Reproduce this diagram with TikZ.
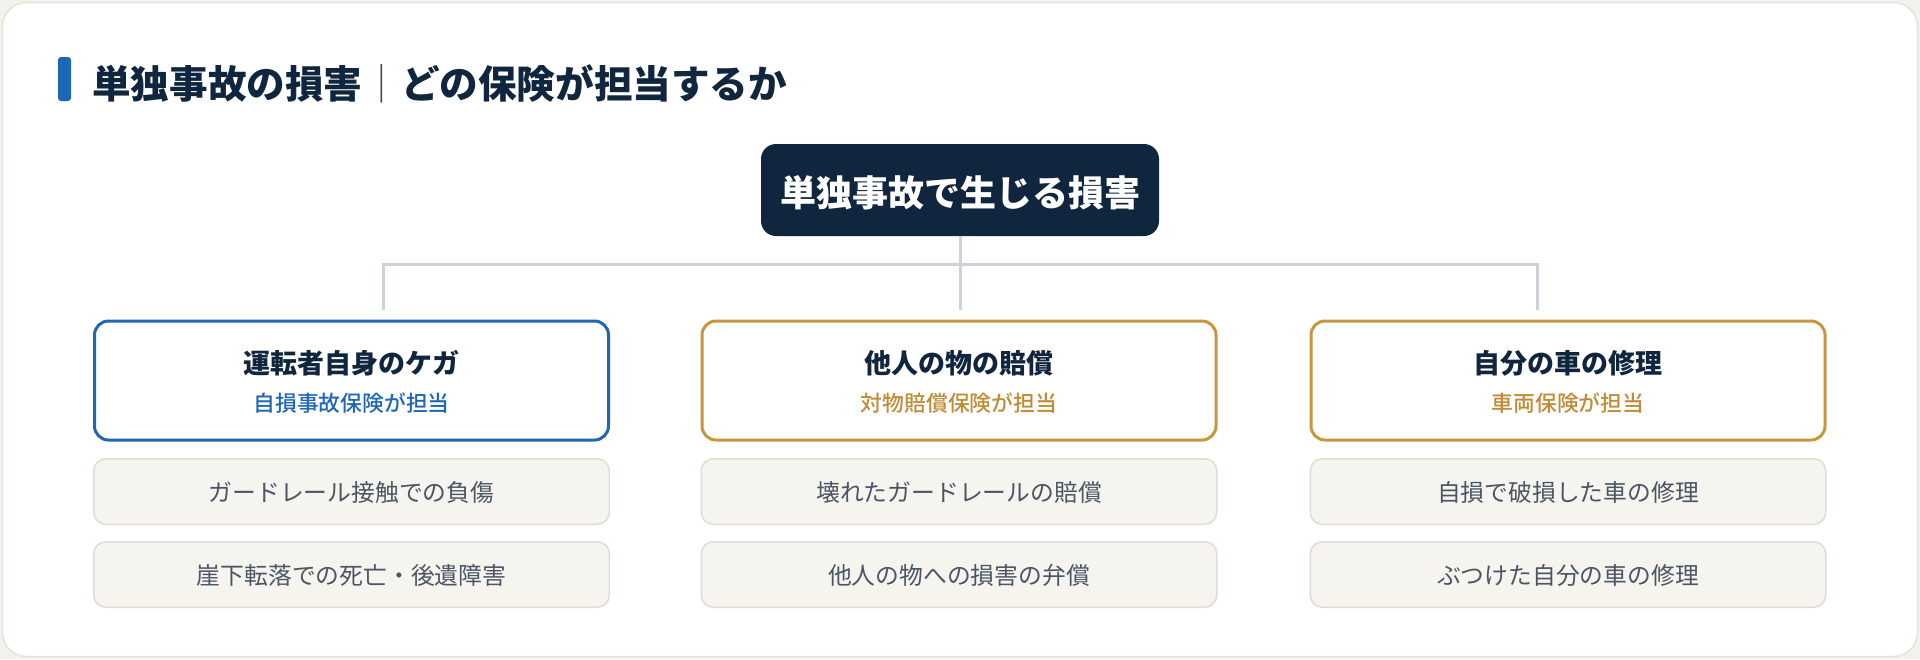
\documentclass[tikz,border=0pt]{standalone}
\usepackage{fontspec}
\setmainfont{Noto Sans CJK JP}
\newfontfamily\medfont{Noto Sans CJK JP Medium}
\definecolor{navy}{HTML}{10263F}
\definecolor{accblue}{HTML}{1E66B6}
\definecolor{gold}{HTML}{C8963E}
\definecolor{goldtxt}{HTML}{C08B35}
\definecolor{itemfill}{HTML}{F5F4EF}
\definecolor{itemline}{HTML}{E0DCD1}
\definecolor{itemtxt}{HTML}{4B5563}
\definecolor{conn}{HTML}{CDD2DA}
\definecolor{cardline}{HTML}{E5E2D9}
\definecolor{outbg}{HTML}{F3F1EC}
\definecolor{sepc}{HTML}{3A4A5E}
\tikzset{
  headbox/.style={draw=#1, line width=3pt, fill=white, rounded corners=14pt,
    minimum width=514pt, minimum height=119pt, inner sep=0pt},
  itembox/.style={draw=itemline, line width=1.5pt, fill=itemfill, rounded corners=12pt,
    minimum width=515.5pt, minimum height=65.5pt, inner sep=0pt},
  htitle/.style={anchor=base, text=navy, font=\fontsize{27}{32}\selectfont\bfseries, inner sep=0pt},
  hsub/.style={anchor=base, text=#1, font=\fontsize{21.8}{26}\selectfont\medfont, inner sep=0pt},
  itemtext/.style={anchor=base, text=itemtxt, font=\fontsize{23.8}{28}\selectfont, inner sep=0pt},
  connline/.style={draw=conn, line width=3pt}
}
\begin{document}
\begin{tikzpicture}[x=1pt,y=-1pt]
\useasboundingbox (0,0) rectangle (1920,659);
\fill[outbg] (0,0) rectangle (1920,659);
\draw[cardline, line width=1.5pt, fill=white, rounded corners=24pt] (2.5,2.5) rectangle (1917.5,656.5);
% title
\fill[accblue, rounded corners=3pt] (58,57) rectangle (71,101);
\node[anchor=base west, inner sep=0pt, text=navy, font=\fontsize{38.6}{46}\selectfont] (title) at (92,98)
  {{\bfseries 単独事故の損害}{\color{sepc}｜}{\bfseries どの保険が担当するか}};
% root
\node[fill=navy, rounded corners=15pt, minimum width=398pt, minimum height=92pt, inner sep=0pt] (root) at (960,190) {};
\node[anchor=base, text=white, font=\fontsize{36}{42}\selectfont\bfseries, inner sep=0pt] (roottxt) at (960,206) {単独事故で生じる損害};
% connectors
\coordinate (jl) at (383,264);
\coordinate (jr) at (1537,264);
\coordinate (el) at (383,310);
\coordinate (er) at (1537,310);
\coordinate (ec) at (960,310);
\draw[connline] (root.south) -- (ec);
\draw[connline] (el) -- (jl) -- (jr) -- (er);
% columns
\node[headbox=accblue] (h1) at (351.5,380.5) {};
\node[htitle] (h1t) at (351.5,373.5) {運転者自身のケガ};
\node[hsub=accblue] (h1s) at (351.5,411.5) {自損事故保険が担当};
\node[itembox] (i11) at (351.5,491.5) {};
\node[itemtext] (i11t) at (351.5,501.5) {ガードレール接触での負傷};
\node[itembox] (i12) at (351.5,574.5) {};
\node[itemtext] (i12t) at (351.5,584.5) {崖下転落での死亡・後遺障害};

\node[headbox=gold] (h2) at (959,380.5) {};
\node[htitle] (h2t) at (959,373.5) {他人の物の賠償};
\node[hsub=goldtxt] (h2s) at (959,411.5) {対物賠償保険が担当};
\node[itembox] (i21) at (959,491.5) {};
\node[itemtext] (i21t) at (959,501.5) {壊れたガードレールの賠償};
\node[itembox] (i22) at (959,574.5) {};
\node[itemtext] (i22t) at (959,584.5) {他人の物への損害の弁償};

\node[headbox=gold] (h3) at (1568,380.5) {};
\node[htitle] (h3t) at (1568,373.5) {自分の車の修理};
\node[hsub=goldtxt] (h3s) at (1568,411.5) {車両保険が担当};
\node[itembox] (i31) at (1568,491.5) {};
\node[itemtext] (i31t) at (1568,501.5) {自損で破損した車の修理};
\node[itembox] (i32) at (1568,574.5) {};
\node[itemtext] (i32t) at (1568,584.5) {ぶつけた自分の車の修理};
\end{tikzpicture}
\end{document}
